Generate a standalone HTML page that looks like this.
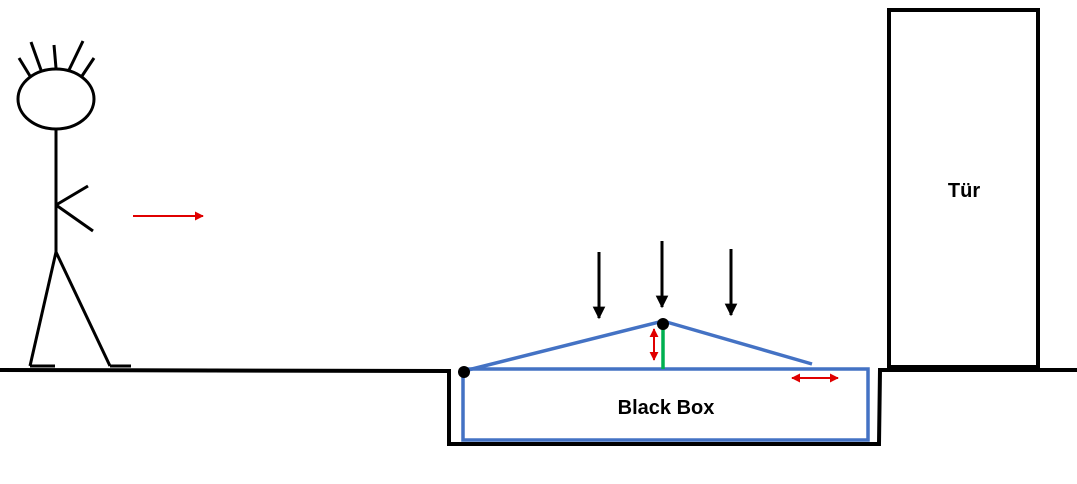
<!DOCTYPE html>
<html><head><meta charset="utf-8"><style>html,body{margin:0;padding:0;background:#fff}svg{display:block}</style></head>
<body>
<svg width="1077" height="484" viewBox="0 0 1077 484" xmlns="http://www.w3.org/2000/svg">
<defs>
<marker id="rh" viewBox="0 0 10 10" refX="9" refY="5" markerWidth="4.5" markerHeight="4.5" orient="auto-start-reverse"><path d="M0,0L10,5L0,10z" fill="#e00000"/></marker>
<marker id="bh" viewBox="0 0 10 10" refX="9" refY="5" markerWidth="4.2" markerHeight="4.2" orient="auto"><path d="M0,0L10,5L0,10z" fill="#000"/></marker>
</defs>
<g stroke="#000" stroke-width="3" fill="none">
<ellipse cx="56" cy="99" rx="38" ry="30"/>
<line x1="56" y1="129" x2="56" y2="252"/>
<line x1="56" y1="205" x2="88" y2="186"/>
<line x1="56" y1="205" x2="93" y2="231"/>
<line x1="56" y1="252" x2="30" y2="366"/>
<line x1="56" y1="252" x2="110" y2="366"/>
<line x1="30" y1="366" x2="55" y2="366"/>
<line x1="110" y1="366" x2="131" y2="366"/>
<line x1="30" y1="76" x2="19" y2="58"/>
<line x1="41" y1="70" x2="31" y2="42"/>
<line x1="56" y1="68" x2="54" y2="45"/>
<line x1="69" y1="70" x2="83" y2="41"/>
<line x1="82" y1="76" x2="94" y2="58"/>
</g>
<g stroke="#000" stroke-width="4" fill="none">
<polyline points="0,370 449,371 449,444 879,444 880,370 1077,370"/>
<rect x="889" y="10" width="149" height="357"/>
</g>
<line x1="133" y1="216" x2="203" y2="216" stroke="#e00000" stroke-width="2" marker-end="url(#rh)"/>
<g stroke="#4472c4" stroke-width="3.5" fill="none">
<rect x="463" y="369" width="405" height="71"/>
<polyline points="464,371 663,321 812,364"/>
</g>
<line x1="663" y1="324" x2="663" y2="369" stroke="#00b050" stroke-width="3.5"/>
<circle cx="464" cy="372" r="6" fill="#000"/>
<circle cx="663" cy="324" r="6" fill="#000"/>
<g stroke="#000" stroke-width="3">
<line x1="599" y1="252" x2="599" y2="318" marker-end="url(#bh)"/>
<line x1="662" y1="241" x2="662" y2="307" marker-end="url(#bh)"/>
<line x1="731" y1="249" x2="731" y2="315" marker-end="url(#bh)"/>
</g>
<g stroke="#e00000" stroke-width="2">
<line x1="654" y1="329" x2="654" y2="360" marker-start="url(#rh)" marker-end="url(#rh)"/>
<line x1="792" y1="378" x2="838" y2="378" marker-start="url(#rh)" marker-end="url(#rh)"/>
</g>
<g font-family="Liberation Sans, sans-serif" font-weight="bold" font-size="20" text-anchor="middle" fill="#000">
<text x="964" y="197">Tür</text>
<text x="666" y="414">Black Box</text>
</g>
</svg>
</body></html>
